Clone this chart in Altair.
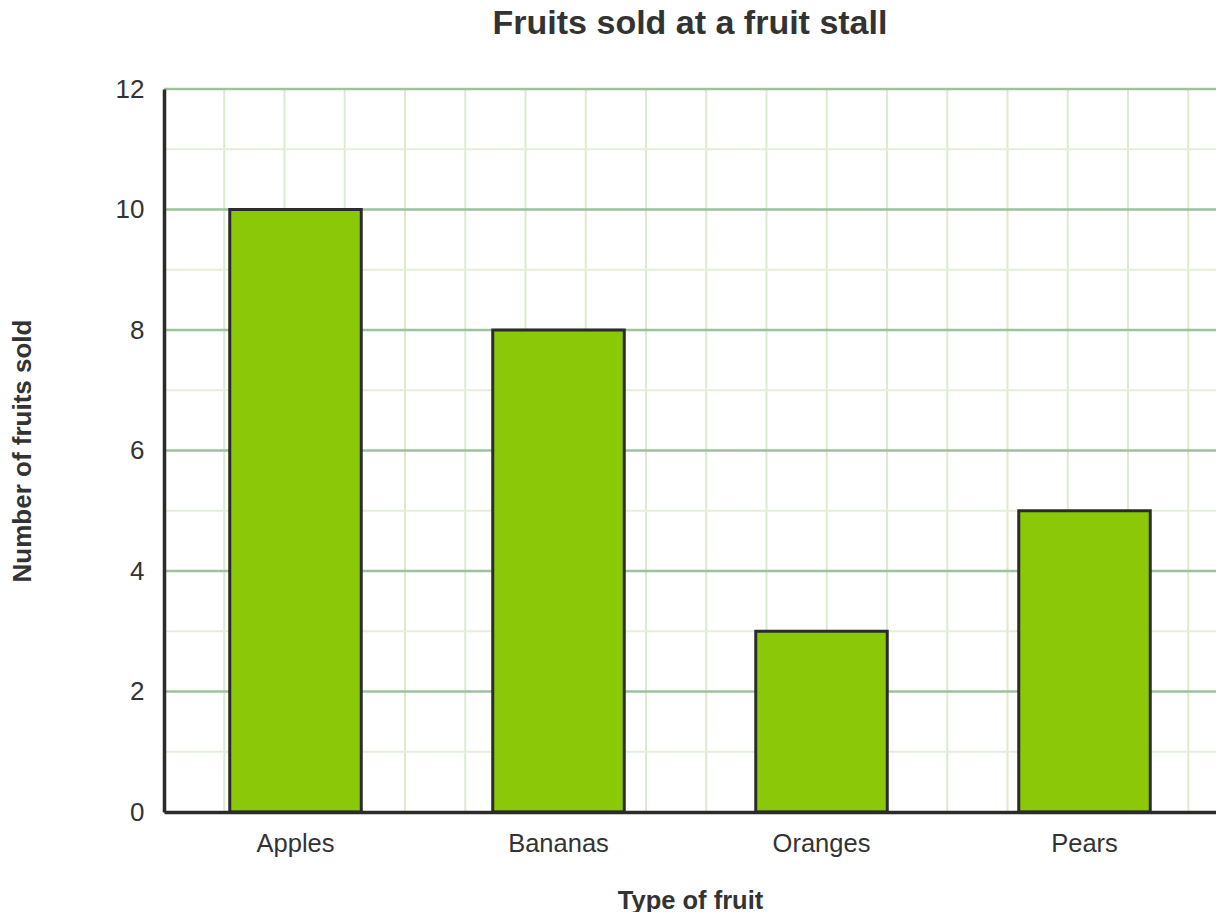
import altair as alt
import pandas as pd

# ---- data ----
fruits = ["Apples", "Bananas", "Oranges", "Pears"]
sold = [10, 8, 3, 5]
y_major = [0, 2, 4, 6, 8, 10, 12]
y_minor = [1, 3, 5, 7, 9, 11]
x_grid = list(range(1, 18))

W, H = 1052, 723
FONT = "Liberation Sans"
TXT = "#333333"

bars_df = pd.DataFrame({"fruit": fruits, "sold": sold})
major_df = pd.DataFrame({"sold": y_major[1:]})
minor_df = pd.DataFrame({"sold": y_minor})
vgrid_df = pd.DataFrame({"g": x_grid})

yscale = alt.Scale(domain=[0, 12], nice=False)
x_max = 12 * W / H  # square grid cells

yaxis = alt.Axis(
    title="Number of fruits sold",
    values=y_major,
    ticks=False,
    grid=False,
    labelPadding=20,
    labelFontSize=26,
    labelFont=FONT,
    labelColor=TXT,
    domainColor="#2b2b2b",
    domainWidth=3.5,
    titleFont=FONT,
    titleFontSize=26,
    titleFontWeight="bold",
    titleColor=TXT,
    titleX=-142,
    titleY=H / 2,
    titleAngle=-90,
    titleBaseline="middle",
    titleAlign="center",
    zindex=1,
)

vgrid = alt.Chart(vgrid_df).mark_rule(color="#dcebd0", strokeWidth=2).encode(
    x=alt.X("g:Q", scale=alt.Scale(domain=[0, x_max], nice=False, zero=True), axis=None)
)

minor = alt.Chart(minor_df).mark_rule(color="#e2efd9", strokeWidth=2).encode(
    y=alt.Y("sold:Q", scale=yscale, axis=yaxis)
)

major = alt.Chart(major_df).mark_rule(color="#9dc29d", strokeWidth=2.5).encode(
    y=alt.Y("sold:Q", scale=yscale, axis=yaxis)
)

bars = alt.Chart(bars_df).mark_bar(
    fill="#8bc807", stroke="#2b2b2b", strokeWidth=3
).encode(
    x=alt.X(
        "fruit:N",
        sort=fruits,
        scale=alt.Scale(paddingInner=0.5, paddingOuter=0.25),
        axis=alt.Axis(
            title="Type of fruit",
            labelAngle=0,
            ticks=False,
            labelPadding=19,
            labelFontSize=25.5,
            labelFont=FONT,
            labelColor=TXT,
            domainColor="#2b2b2b",
            domainWidth=3.5,
            titleFont=FONT,
            titleFontSize=25.5,
            titleFontWeight="bold",
            titleColor=TXT,
            titleX=W / 2,
            titleY=88,
            titleBaseline="middle",
            zindex=1,
        ),
    ),
    y=alt.Y("sold:Q", scale=yscale, axis=yaxis),
)

chart = (
    alt.layer(vgrid, minor, major, bars)
    .resolve_scale(x="independent")
    .properties(
        width=W,
        height=H,
        title=alt.TitleParams(
            "Fruits sold at a fruit stall",
            font=FONT,
            fontSize=34,
            fontWeight="bold",
            color=TXT,
            anchor="middle",
            offset=35,
        ),
        autosize=alt.AutoSizeParams(type="none"),
        padding={"left": 156, "top": 81, "right": 0, "bottom": 100},
    )
    .configure_view(stroke=None)
)

chart.save("out.html", embed_options={"renderer": "svg", "actions": False})
